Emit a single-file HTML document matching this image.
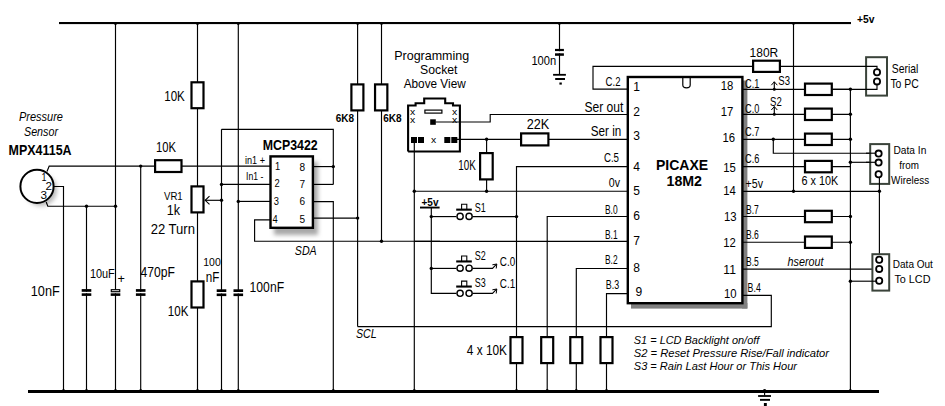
<!DOCTYPE html>
<html><head><meta charset="utf-8"><title>Barometer schematic</title>
<style>
html,body{margin:0;padding:0;background:#fff;}
body{width:945px;height:406px;overflow:hidden;}
svg{display:block;font-family:"Liberation Sans", sans-serif;}
</style></head><body>
<svg width="945" height="406" viewBox="0 0 945 406">
<rect x="0" y="0" width="945" height="406" fill="#fff"/>
<defs><filter id="bl" x="-50%" y="-50%" width="200%" height="200%"><feGaussianBlur stdDeviation="2.2"/></filter></defs>
<rect x="274" y="162" width="44" height="73" fill="#a8a8a8" filter="url(#bl)"/>
<filter id="bl2" x="-50%" y="-50%" width="200%" height="200%"><feGaussianBlur stdDeviation="0.7"/></filter>
<g filter="url(#bl2)" fill="#808080"><rect x="742" y="80.5" width="5.4" height="228"/><rect x="631" y="303" width="116.4" height="5.6"/></g>
<circle cx="41" cy="190" r="16" fill="#bbb" filter="url(#bl)"/>
<rect x="59" y="22" width="792" height="2.1" fill="#000"/>
<rect x="28" y="390" width="851" height="3" fill="#000"/>
<text x="857" y="23.2" font-size="10.8" font-weight="bold" textLength="17.5" lengthAdjust="spacingAndGlyphs">+5v</text>
<circle cx="37" cy="186.4" r="16.6" fill="#fff" stroke="#000" stroke-width="2.0"/>
<polyline points="47,171.5 49.2,166.1 270,166.1" fill="none" stroke="#000" stroke-width="1.15"/>
<polyline points="54,186.5 63.5,186.5 63.5,391" fill="none" stroke="#000" stroke-width="1.15"/>
<polyline points="46.2,202 47.8,206.2 115.5,206.2" fill="none" stroke="#000" stroke-width="1.15"/>
<text x="41.5" y="180.5" font-size="11.5" textLength="5" lengthAdjust="spacingAndGlyphs">1</text>
<text x="45.5" y="190.2" font-size="11.5" textLength="6.5" lengthAdjust="spacingAndGlyphs">2</text>
<text x="40.5" y="198.5" font-size="11.5" textLength="6.5" lengthAdjust="spacingAndGlyphs">3</text>
<text x="19" y="120.8" font-size="12.2" font-style="italic" textLength="44" lengthAdjust="spacingAndGlyphs">Pressure</text>
<text x="24" y="136.2" font-size="12.2" font-style="italic" textLength="34" lengthAdjust="spacingAndGlyphs">Sensor</text>
<text x="8.6" y="154.6" font-size="14.2" font-weight="bold" textLength="63" lengthAdjust="spacingAndGlyphs">MPX4115A</text>
<line x1="86.5" y1="206.2" x2="86.5" y2="391" stroke="#000" stroke-width="1.15"/>
<line x1="115.5" y1="23" x2="115.5" y2="391" stroke="#000" stroke-width="1.15"/>
<line x1="140.7" y1="166.1" x2="140.7" y2="391" stroke="#000" stroke-width="1.15"/>
<circle cx="86.5" cy="206.2" r="1.7" fill="#000"/>
<circle cx="115.5" cy="23.8" r="1.3" fill="#000"/>
<circle cx="197.5" cy="23.8" r="1.3" fill="#000"/>
<circle cx="238.3" cy="23.8" r="1.3" fill="#000"/>
<circle cx="357.6" cy="23.8" r="1.2" fill="#000"/>
<circle cx="381.5" cy="23.8" r="1.2" fill="#000"/>
<circle cx="115.5" cy="206.2" r="1.7" fill="#000"/>
<circle cx="140.7" cy="166.1" r="1.7" fill="#000"/>
<circle cx="63.5" cy="390.5" r="1.5" fill="#000"/>
<circle cx="86.5" cy="390.5" r="1.5" fill="#000"/>
<circle cx="115.5" cy="390.5" r="1.5" fill="#000"/>
<circle cx="140.7" cy="390.5" r="1.5" fill="#000"/>
<rect x="81.7" y="291.70000000000005" width="9.6" height="1.6" fill="#fff"/>
<rect x="81.7" y="289.1" width="9.6" height="2.7" fill="#000"/>
<rect x="81.7" y="293.3" width="9.6" height="2.6" fill="#000"/>
<rect x="110.7" y="291.70000000000005" width="9.6" height="1.6" fill="#fff"/>
<rect x="111.3" y="289.70000000000005" width="8.4" height="2" fill="#fff" stroke="#000" stroke-width="1.2"/>
<rect x="110.7" y="293.3" width="9.6" height="2.6" fill="#000"/>
<rect x="135.89999999999998" y="291.70000000000005" width="9.6" height="1.6" fill="#fff"/>
<rect x="135.89999999999998" y="289.1" width="9.6" height="2.7" fill="#000"/>
<rect x="135.89999999999998" y="293.3" width="9.6" height="2.6" fill="#000"/>
<text x="30.8" y="296.3" font-size="15" textLength="29" lengthAdjust="spacingAndGlyphs">10nF</text>
<text x="89.9" y="278.1" font-size="12.5" textLength="24.9" lengthAdjust="spacingAndGlyphs">10uF</text>
<text x="117.6" y="283.0" font-size="12" textLength="7.4" lengthAdjust="spacingAndGlyphs">+</text>
<text x="140.6" y="276.7" font-size="14.6" textLength="34.4" lengthAdjust="spacingAndGlyphs">470pF</text>
<line x1="197.5" y1="23" x2="197.5" y2="391" stroke="#000" stroke-width="1.15"/>
<rect x="191.5" y="82.3" width="11.99999999999999" height="25.899999999999995" fill="#fff" stroke="#000" stroke-width="2.2"/>
<text x="164.2" y="101.4" font-size="15.5" textLength="20.6" lengthAdjust="spacingAndGlyphs">10K</text>
<rect x="155.1" y="160.2" width="26.400000000000023" height="11.8" fill="#fff" stroke="#000" stroke-width="2.2"/>
<text x="156" y="152" font-size="15.3" textLength="20" lengthAdjust="spacingAndGlyphs">10K</text>
<rect x="191.5" y="186.39999999999998" width="11.99999999999999" height="26.000000000000018" fill="#fff" stroke="#000" stroke-width="2.2"/>
<text x="164" y="200.2" font-size="11.5" textLength="18.7" lengthAdjust="spacingAndGlyphs">VR1</text>
<text x="166.7" y="215.2" font-size="14" textLength="13.3" lengthAdjust="spacingAndGlyphs">1k</text>
<text x="150.7" y="234.2" font-size="14" textLength="44.3" lengthAdjust="spacingAndGlyphs">22 Turn</text>
<line x1="205" y1="200.3" x2="221.5" y2="200.3" stroke="#000" stroke-width="1.15"/>
<polyline points="209.5,196.2 205.2,200.3 209.5,204.4" fill="none" stroke="#000" stroke-width="1.1"/>
<rect x="191.5" y="281.40000000000003" width="11.99999999999999" height="26.100000000000012" fill="#fff" stroke="#000" stroke-width="2.2"/>
<text x="167.8" y="316" font-size="15.2" textLength="20.6" lengthAdjust="spacingAndGlyphs">10K</text>
<circle cx="197.5" cy="390.5" r="1.5" fill="#000"/>
<line x1="221.5" y1="129.3" x2="221.5" y2="391" stroke="#000" stroke-width="1.15"/>
<line x1="238.3" y1="23" x2="238.3" y2="391" stroke="#000" stroke-width="1.15"/>
<rect x="216.7" y="291.90000000000003" width="9.6" height="1.6" fill="#fff"/>
<rect x="216.7" y="289.3" width="9.6" height="2.7" fill="#000"/>
<rect x="216.7" y="293.5" width="9.6" height="2.6" fill="#000"/>
<rect x="233.5" y="291.90000000000003" width="9.6" height="1.6" fill="#fff"/>
<rect x="233.5" y="289.3" width="9.6" height="2.7" fill="#000"/>
<rect x="233.5" y="293.5" width="9.6" height="2.6" fill="#000"/>
<text x="203.3" y="266.2" font-size="11.5" textLength="17.4" lengthAdjust="spacingAndGlyphs">100</text>
<text x="205.7" y="281.8" font-size="14" textLength="13.6" lengthAdjust="spacingAndGlyphs">nF</text>
<text x="249.6" y="292.2" font-size="15" textLength="34.5" lengthAdjust="spacingAndGlyphs">100nF</text>
<circle cx="221.5" cy="390.5" r="1.5" fill="#000"/>
<circle cx="238.3" cy="390.5" r="1.5" fill="#000"/>
<polyline points="221.5,129.3 333.3,129.3 333.3,184.4" fill="none" stroke="#000" stroke-width="1.15"/>
<line x1="221.5" y1="184.4" x2="270" y2="184.4" stroke="#000" stroke-width="1.15"/>
<circle cx="221.5" cy="184.4" r="1.7" fill="#000"/>
<circle cx="221.5" cy="200.3" r="1.7" fill="#000"/>
<line x1="238.3" y1="201.4" x2="270" y2="201.4" stroke="#000" stroke-width="1.15"/>
<circle cx="238.3" cy="201.4" r="1.7" fill="#000"/>
<line x1="314" y1="166.6" x2="333.3" y2="166.6" stroke="#000" stroke-width="1.15"/>
<circle cx="333.3" cy="166.6" r="1.7" fill="#000"/>
<line x1="314" y1="184.4" x2="333.3" y2="184.4" stroke="#000" stroke-width="1.15"/>
<polyline points="314,201.6 333.3,201.6 333.3,391" fill="none" stroke="#000" stroke-width="1.15"/>
<circle cx="333.3" cy="390.5" r="1.5" fill="#000"/>
<line x1="314" y1="218.1" x2="357.6" y2="218.1" stroke="#000" stroke-width="1.15"/>
<circle cx="357.6" cy="218.1" r="1.7" fill="#000"/>
<polyline points="270,219.8 254.6,219.8 254.6,241.2 440,241.2" fill="none" stroke="#000" stroke-width="1.15"/>
<circle cx="381.5" cy="241.2" r="1.7" fill="#000"/>
<rect x="270.5" y="156.39999999999998" width="42.40000000000001" height="71.4" fill="#fff" stroke="#000" stroke-width="2.4"/>
<text x="262.7" y="149.9" font-size="15" font-weight="bold" textLength="55" lengthAdjust="spacingAndGlyphs">MCP3422</text>
<text x="245" y="164.2" font-size="11.5" textLength="20" lengthAdjust="spacingAndGlyphs">in1 +</text>
<text x="246" y="180.4" font-size="11.5" textLength="17.3" lengthAdjust="spacingAndGlyphs">In1 -</text>
<text x="275.0" y="170.4" font-size="11.5" textLength="5.2" lengthAdjust="spacingAndGlyphs">1</text>
<text x="274.6" y="187.3" font-size="11.5" textLength="5.2" lengthAdjust="spacingAndGlyphs">2</text>
<text x="273.8" y="205.4" font-size="11.5" textLength="5.2" lengthAdjust="spacingAndGlyphs">3</text>
<text x="272.4" y="223.0" font-size="11.5" textLength="5.2" lengthAdjust="spacingAndGlyphs">4</text>
<text x="299.5" y="170.8" font-size="11.5" textLength="5.6" lengthAdjust="spacingAndGlyphs">8</text>
<text x="299.5" y="188.4" font-size="11.5" textLength="5.6" lengthAdjust="spacingAndGlyphs">7</text>
<text x="299.5" y="205.4" font-size="11.5" textLength="5.6" lengthAdjust="spacingAndGlyphs">6</text>
<text x="299.5" y="222.6" font-size="11.5" textLength="5.6" lengthAdjust="spacingAndGlyphs">5</text>
<text x="294.8" y="255.3" font-size="12.5" font-style="italic" textLength="21.9" lengthAdjust="spacingAndGlyphs">SDA</text>
<line x1="357.6" y1="23" x2="357.6" y2="326.6" stroke="#000" stroke-width="1.15"/>
<line x1="381.5" y1="23" x2="381.5" y2="241.2" stroke="#000" stroke-width="1.15"/>
<rect x="351.4" y="84.39999999999999" width="12.000000000000046" height="26.000000000000004" fill="#fff" stroke="#000" stroke-width="2.2"/>
<rect x="375.05" y="84.39999999999999" width="12.3" height="26.000000000000004" fill="#fff" stroke="#000" stroke-width="2.2"/>
<text x="335.7" y="122.2" font-size="11" font-weight="bold" textLength="18.3" lengthAdjust="spacingAndGlyphs">6K8</text>
<text x="383.3" y="122.2" font-size="11" font-weight="bold" textLength="18.4" lengthAdjust="spacingAndGlyphs">6K8</text>
<polyline points="357.6,326.6 771.3,326.6 771.3,295.4 743,295.4" fill="none" stroke="#000" stroke-width="1.15"/>
<text x="356" y="338.2" font-size="12.5" font-style="italic" textLength="20.7" lengthAdjust="spacingAndGlyphs">SCL</text>
<text x="394.2" y="59.5" font-size="12.2" textLength="75" lengthAdjust="spacingAndGlyphs">Programming</text>
<text x="420" y="73.8" font-size="12.2" textLength="37.5" lengthAdjust="spacingAndGlyphs">Socket</text>
<text x="403.7" y="88.1" font-size="12.2" textLength="62" lengthAdjust="spacingAndGlyphs">Above View</text>
<polyline points="408.1,151.5 408.1,105.5 415.6,105.5 415.6,103.3 424.2,103.3 424.2,98.5 445.2,98.5 445.2,103.3 453.0,103.3 453.0,105.5 459.9,105.5 459.9,151.5 408.1,151.5" fill="none" stroke="#000" stroke-width="2.1"/>
<rect x="424.9" y="110.1" width="17" height="3" fill="none" stroke="#000" stroke-width="1.2"/>
<text x="410.0" y="114.8" font-size="9.2" textLength="5.2" lengthAdjust="spacingAndGlyphs">x</text>
<text x="410.0" y="123.4" font-size="9.2" textLength="5.2" lengthAdjust="spacingAndGlyphs">x</text>
<text x="452.09999999999997" y="114.8" font-size="9.2" textLength="5.2" lengthAdjust="spacingAndGlyphs">x</text>
<text x="452.09999999999997" y="123.4" font-size="9.2" textLength="5.2" lengthAdjust="spacingAndGlyphs">x</text>
<text x="430.9" y="142.6" font-size="9.2" textLength="5.2" lengthAdjust="spacingAndGlyphs">x</text>
<rect x="430.2" y="119.3" width="5.6" height="5.5" fill="#000"/>
<rect x="411" y="137" width="6" height="6" fill="#000"/>
<rect x="418" y="137" width="6" height="6" fill="#000"/>
<rect x="444.3" y="137" width="6" height="6" fill="#000"/>
<rect x="451.3" y="137" width="6" height="6" fill="#000"/>
<polyline points="435.5,122 490.2,122 490.2,114.5 628,114.5" fill="none" stroke="#000" stroke-width="1.15"/>
<line x1="457" y1="139.3" x2="628" y2="139.3" stroke="#000" stroke-width="1.15"/>
<line x1="414.3" y1="142" x2="414.3" y2="391" stroke="#000" stroke-width="1.15"/>
<circle cx="414.3" cy="390.5" r="1.5" fill="#000"/>
<line x1="414.3" y1="191.2" x2="628" y2="191.2" stroke="#000" stroke-width="1.15"/>
<circle cx="414.3" cy="191.2" r="1.7" fill="#000"/>
<circle cx="486.6" cy="191.2" r="1.7" fill="#000"/>
<line x1="486.6" y1="139.3" x2="486.6" y2="191.2" stroke="#000" stroke-width="1.15"/>
<circle cx="486.6" cy="139.3" r="1.7" fill="#000"/>
<rect x="480.1" y="153.1" width="12.599999999999955" height="26.3" fill="#fff" stroke="#000" stroke-width="2.2"/>
<text x="458.3" y="170.2" font-size="14" textLength="17.5" lengthAdjust="spacingAndGlyphs">10K</text>
<rect x="521.1" y="133.4" width="27.3" height="11.99999999999999" fill="#fff" stroke="#000" stroke-width="2.2"/>
<text x="526.7" y="129.2" font-size="14" textLength="22.6" lengthAdjust="spacingAndGlyphs">22K</text>
<text x="421.5" y="205.5" font-size="10" font-weight="bold" textLength="17" lengthAdjust="spacingAndGlyphs">+5v</text>
<rect x="420.0" y="206.6" width="19.6" height="1.9" fill="#000"/>
<polyline points="431.3,208 431.3,293.4 456.4,293.4" fill="none" stroke="#000" stroke-width="1.15"/>
<line x1="431.3" y1="216.6" x2="456.4" y2="216.6" stroke="#000" stroke-width="1.15"/>
<line x1="431.3" y1="268.4" x2="456.4" y2="268.4" stroke="#000" stroke-width="1.15"/>
<circle cx="431.3" cy="216.6" r="1.7" fill="#000"/>
<circle cx="431.3" cy="268.4" r="1.7" fill="#000"/>
<circle cx="460.1" cy="216.4" r="3.1" fill="#fff" stroke="#000" stroke-width="1.4"/>
<circle cx="469.1" cy="216.4" r="3.1" fill="#fff" stroke="#000" stroke-width="1.4"/>
<rect x="456.20000000000005" y="208.6" width="15.6" height="2.1" fill="#000"/>
<polyline points="461.6,209.6 461.6,204.20000000000002 466.8,204.20000000000002 466.8,209.6" fill="none" stroke="#000" stroke-width="1.1"/>
<circle cx="460.1" cy="268.2" r="3.1" fill="#fff" stroke="#000" stroke-width="1.4"/>
<circle cx="469.1" cy="268.2" r="3.1" fill="#fff" stroke="#000" stroke-width="1.4"/>
<rect x="456.20000000000005" y="260.4" width="15.6" height="2.1" fill="#000"/>
<polyline points="461.6,261.4 461.6,256.0 466.8,256.0 466.8,261.4" fill="none" stroke="#000" stroke-width="1.1"/>
<circle cx="460.1" cy="293.3" r="3.1" fill="#fff" stroke="#000" stroke-width="1.4"/>
<circle cx="469.1" cy="293.3" r="3.1" fill="#fff" stroke="#000" stroke-width="1.4"/>
<rect x="456.20000000000005" y="285.5" width="15.6" height="2.1" fill="#000"/>
<polyline points="461.6,286.5 461.6,281.1 466.8,281.1 466.8,286.5" fill="none" stroke="#000" stroke-width="1.1"/>
<line x1="472.6" y1="216.6" x2="516.5" y2="216.6" stroke="#000" stroke-width="1.15"/>
<circle cx="516.5" cy="216.6" r="1.7" fill="#000"/>
<text x="474.7" y="211.8" font-size="13" textLength="11" lengthAdjust="spacingAndGlyphs">S1</text>
<text x="474.7" y="259.7" font-size="13" textLength="11" lengthAdjust="spacingAndGlyphs">S2</text>
<text x="474.7" y="287.0" font-size="13" textLength="11" lengthAdjust="spacingAndGlyphs">S3</text>
<polyline points="472.6,268.4 492.5,268.4 496.6,264.09999999999997" fill="none" stroke="#000" stroke-width="1.1"/>
<polyline points="492.4,264.79999999999995 496.8,264.0 496.2,268.5" fill="none" stroke="#000" stroke-width="1.0"/>
<polyline points="472.6,293.4 492.5,293.4 496.6,289.09999999999997" fill="none" stroke="#000" stroke-width="1.1"/>
<polyline points="492.4,289.79999999999995 496.8,289.0 496.2,293.5" fill="none" stroke="#000" stroke-width="1.0"/>
<text x="499.8" y="265.6" font-size="13" textLength="15.4" lengthAdjust="spacingAndGlyphs">C.0</text>
<text x="499.8" y="288.0" font-size="13" textLength="15.4" lengthAdjust="spacingAndGlyphs">C.1</text>
<polyline points="628,166.6 516.5,166.6 516.5,391" fill="none" stroke="#000" stroke-width="1.15"/>
<polyline points="628,216.5 547.2,216.5 547.2,391" fill="none" stroke="#000" stroke-width="1.15"/>
<line x1="414.3" y1="241.4" x2="628" y2="241.4" stroke="#000" stroke-width="1.15"/>
<polyline points="628,268.5 576.3,268.5 576.3,391" fill="none" stroke="#000" stroke-width="1.15"/>
<polyline points="628,293.6 606.5,293.6 606.5,391" fill="none" stroke="#000" stroke-width="1.15"/>
<rect x="510.5" y="337.1" width="12.000000000000046" height="25.99999999999999" fill="#fff" stroke="#000" stroke-width="2.2"/>
<circle cx="516.5" cy="390.5" r="1.5" fill="#000"/>
<rect x="541.2" y="337.1" width="12.000000000000046" height="25.99999999999999" fill="#fff" stroke="#000" stroke-width="2.2"/>
<circle cx="547.2" cy="390.5" r="1.5" fill="#000"/>
<rect x="570.3" y="337.1" width="12.000000000000046" height="25.99999999999999" fill="#fff" stroke="#000" stroke-width="2.2"/>
<circle cx="576.3" cy="390.5" r="1.5" fill="#000"/>
<rect x="600.5" y="337.1" width="12.000000000000046" height="25.99999999999999" fill="#fff" stroke="#000" stroke-width="2.2"/>
<circle cx="606.5" cy="390.5" r="1.5" fill="#000"/>
<text x="466.8" y="354.8" font-size="14" textLength="40.2" lengthAdjust="spacingAndGlyphs">4  x 10K</text>
<line x1="559.5" y1="23" x2="559.5" y2="75" stroke="#000" stroke-width="1.15"/>
<circle cx="559.3" cy="23.5" r="1.4" fill="#000"/>
<rect x="555.0" y="48.9" width="8.9" height="2.4" fill="#000"/>
<rect x="555.0" y="51.3" width="8.9" height="2.0" fill="#fff"/>
<rect x="555.0" y="53.3" width="8.9" height="2.5" fill="#000"/>
<rect x="553.1" y="73.9" width="12.8" height="1.8" fill="#000"/>
<rect x="555.2" y="78.0" width="9.8" height="2.0" fill="#000"/>
<rect x="559.4" y="82.5" width="2.4" height="2.1" fill="#000"/>
<text x="531.4" y="65.1" font-size="12.3" textLength="24.8" lengthAdjust="spacingAndGlyphs">100n</text>
<polyline points="628,89.1 593,89.1 593,66.3 752.7,66.3" fill="none" stroke="#000" stroke-width="1.15"/>
<rect x="627.8000000000001" y="77.0" width="114.6" height="226.19999999999996" fill="#fff" stroke="#000" stroke-width="2.4"/>
<path d="M682.8,77 L682.8,85 Q682.8,87.8 686.5,87.8 Q690.2,87.8 690.2,85 L690.2,77" fill="none" stroke="#000" stroke-width="1.2"/>
<text x="655.9" y="169.7" font-size="15.4" font-weight="bold" textLength="52.2" lengthAdjust="spacingAndGlyphs">PICAXE</text>
<text x="666.5" y="186.3" font-size="15.4" font-weight="bold" textLength="35.5" lengthAdjust="spacingAndGlyphs">18M2</text>
<text x="633.2" y="90.6" font-size="12.5" textLength="6.7" lengthAdjust="spacingAndGlyphs">1</text>
<text x="633.2" y="115.9" font-size="12.5" textLength="6.7" lengthAdjust="spacingAndGlyphs">2</text>
<text x="633.2" y="139.9" font-size="12.5" textLength="6.7" lengthAdjust="spacingAndGlyphs">3</text>
<text x="633.2" y="170.5" font-size="12.5" textLength="6.7" lengthAdjust="spacingAndGlyphs">4</text>
<text x="633.2" y="194.9" font-size="12.5" textLength="6.7" lengthAdjust="spacingAndGlyphs">5</text>
<text x="633.2" y="220.3" font-size="12.5" textLength="6.7" lengthAdjust="spacingAndGlyphs">6</text>
<text x="633.2" y="244.7" font-size="12.5" textLength="6.7" lengthAdjust="spacingAndGlyphs">7</text>
<text x="633.2" y="272.0" font-size="12.5" textLength="6.7" lengthAdjust="spacingAndGlyphs">8</text>
<text x="635.4" y="296.0" font-size="12.5" textLength="6.7" lengthAdjust="spacingAndGlyphs">9</text>
<text x="733.4" y="89.9" font-size="12.5" text-anchor="end" textLength="12.6" lengthAdjust="spacingAndGlyphs">18</text>
<text x="733.4" y="115.9" font-size="12.5" text-anchor="end" textLength="12.6" lengthAdjust="spacingAndGlyphs">17</text>
<text x="735.0" y="141.6" font-size="12.5" text-anchor="end" textLength="12.6" lengthAdjust="spacingAndGlyphs">16</text>
<text x="735.9" y="172.0" font-size="12.5" text-anchor="end" textLength="12.6" lengthAdjust="spacingAndGlyphs">15</text>
<text x="735.9" y="194.9" font-size="12.5" text-anchor="end" textLength="12.6" lengthAdjust="spacingAndGlyphs">14</text>
<text x="736.6" y="221.0" font-size="12.5" text-anchor="end" textLength="12.6" lengthAdjust="spacingAndGlyphs">13</text>
<text x="735.9" y="246.7" font-size="12.5" text-anchor="end" textLength="12.6" lengthAdjust="spacingAndGlyphs">12</text>
<text x="735.9" y="274.0" font-size="12.5" text-anchor="end" textLength="12.6" lengthAdjust="spacingAndGlyphs">11</text>
<text x="736.6" y="297.6" font-size="12.5" text-anchor="end" textLength="12.6" lengthAdjust="spacingAndGlyphs">10</text>
<text x="605.6" y="86.2" font-size="12" textLength="14.9" lengthAdjust="spacingAndGlyphs">C.2</text>
<text x="584.4" y="112.4" font-size="14" textLength="38.9" lengthAdjust="spacingAndGlyphs">Ser out</text>
<text x="590.8" y="135.7" font-size="14" textLength="30.5" lengthAdjust="spacingAndGlyphs">Ser in</text>
<text x="603.9" y="161.7" font-size="12" textLength="15.1" lengthAdjust="spacingAndGlyphs">C.5</text>
<text x="608.8" y="186.9" font-size="12.5" textLength="11.2" lengthAdjust="spacingAndGlyphs">0v</text>
<text x="605" y="214.2" font-size="12.5" textLength="12.6" lengthAdjust="spacingAndGlyphs">B.0</text>
<text x="605" y="239.2" font-size="12.5" textLength="12.6" lengthAdjust="spacingAndGlyphs">B.1</text>
<text x="605" y="264.0" font-size="12.5" textLength="12.6" lengthAdjust="spacingAndGlyphs">B.2</text>
<text x="605.8" y="289.2" font-size="12.5" textLength="13.4" lengthAdjust="spacingAndGlyphs">B.3</text>
<line x1="743" y1="89.3" x2="850.4" y2="89.3" stroke="#000" stroke-width="1.15"/>
<line x1="743" y1="114.3" x2="850.4" y2="114.3" stroke="#000" stroke-width="1.15"/>
<line x1="743" y1="139.3" x2="850.4" y2="139.3" stroke="#000" stroke-width="1.15"/>
<line x1="743" y1="166.6" x2="850.4" y2="166.6" stroke="#000" stroke-width="1.15"/>
<line x1="743" y1="191.3" x2="879.4" y2="191.3" stroke="#000" stroke-width="1.15"/>
<line x1="743" y1="216.5" x2="850.4" y2="216.5" stroke="#000" stroke-width="1.15"/>
<line x1="743" y1="242.2" x2="850.4" y2="242.2" stroke="#000" stroke-width="1.15"/>
<line x1="743" y1="269.1" x2="879.4" y2="269.1" stroke="#000" stroke-width="1.15"/>
<line x1="793.5" y1="23" x2="793.5" y2="191.3" stroke="#000" stroke-width="1.15"/>
<circle cx="793.5" cy="23.5" r="1.4" fill="#000"/>
<circle cx="793.5" cy="191.3" r="1.7" fill="#000"/>
<line x1="850.4" y1="89.3" x2="850.4" y2="391" stroke="#000" stroke-width="1.15"/>
<circle cx="850.4" cy="89.3" r="1.7" fill="#000"/>
<circle cx="850.4" cy="114.3" r="1.7" fill="#000"/>
<circle cx="850.4" cy="139.3" r="1.7" fill="#000"/>
<circle cx="850.4" cy="162.3" r="1.7" fill="#000"/>
<circle cx="850.4" cy="216.5" r="1.7" fill="#000"/>
<circle cx="850.4" cy="242.2" r="1.7" fill="#000"/>
<circle cx="850.4" cy="281.2" r="1.7" fill="#000"/>
<circle cx="850.4" cy="390.5" r="1.5" fill="#000"/>
<rect x="805.0000000000001" y="83.6" width="26.799999999999887" height="11.399999999999995" fill="#fff" stroke="#000" stroke-width="2.2"/>
<rect x="805.0000000000001" y="108.6" width="26.799999999999887" height="11.399999999999995" fill="#fff" stroke="#000" stroke-width="2.2"/>
<rect x="805.0000000000001" y="133.6" width="26.799999999999887" height="11.400000000000023" fill="#fff" stroke="#000" stroke-width="2.2"/>
<rect x="805.0000000000001" y="160.89999999999998" width="26.799999999999887" height="11.400000000000023" fill="#fff" stroke="#000" stroke-width="2.2"/>
<rect x="805.0000000000001" y="210.79999999999998" width="26.799999999999887" height="11.400000000000023" fill="#fff" stroke="#000" stroke-width="2.2"/>
<rect x="805.0000000000001" y="236.49999999999997" width="26.799999999999887" height="11.400000000000023" fill="#fff" stroke="#000" stroke-width="2.2"/>
<rect x="753.1" y="60.699999999999996" width="26.8" height="11.200000000000006" fill="#fff" stroke="#000" stroke-width="2.2"/>
<text x="749.6" y="56.8" font-size="12.6" textLength="28.6" lengthAdjust="spacingAndGlyphs">180R</text>
<text x="801.4" y="184.8" font-size="12.2" textLength="36.8" lengthAdjust="spacingAndGlyphs">6 x 10K</text>
<text x="787.6" y="265.8" font-size="12.5" font-style="italic" textLength="36" lengthAdjust="spacingAndGlyphs">hserout</text>
<polyline points="773.3,139.3 773.3,153.2 876,153.2" fill="none" stroke="#000" stroke-width="1.15"/>
<circle cx="773.3" cy="139.3" r="1.7" fill="#000"/>
<line x1="850.4" y1="162.3" x2="876" y2="162.3" stroke="#000" stroke-width="1.15"/>
<line x1="774.3" y1="89.3" x2="774.3" y2="81.8" stroke="#000" stroke-width="1.15"/>
<polyline points="771.3,85.2 774.3,81.8 777.3,85.2" fill="none" stroke="#000" stroke-width="1.0"/>
<circle cx="774.3" cy="89.3" r="1.5" fill="#000"/>
<line x1="774.3" y1="114.3" x2="774.3" y2="106.6" stroke="#000" stroke-width="1.15"/>
<polyline points="771.3,110.0 774.3,106.6 777.3,110.0" fill="none" stroke="#000" stroke-width="1.0"/>
<circle cx="774.3" cy="114.3" r="1.5" fill="#000"/>
<text x="778.3" y="84.6" font-size="12.5" textLength="11.7" lengthAdjust="spacingAndGlyphs">S3</text>
<text x="770" y="106.2" font-size="12.5" textLength="11.7" lengthAdjust="spacingAndGlyphs">S2</text>
<text x="745" y="87.8" font-size="13" textLength="14.3" lengthAdjust="spacingAndGlyphs">C.1</text>
<text x="745" y="112.8" font-size="13" textLength="14.3" lengthAdjust="spacingAndGlyphs">C.0</text>
<text x="745" y="136.2" font-size="13" textLength="14.3" lengthAdjust="spacingAndGlyphs">C.7</text>
<text x="745" y="163.0" font-size="13" textLength="14.3" lengthAdjust="spacingAndGlyphs">C.6</text>
<text x="745.5" y="187.6" font-size="12.5" textLength="17.5" lengthAdjust="spacingAndGlyphs">+5v</text>
<text x="746" y="214.4" font-size="12.5" textLength="12.8" lengthAdjust="spacingAndGlyphs">B.7</text>
<text x="746" y="239.2" font-size="12.5" textLength="12.8" lengthAdjust="spacingAndGlyphs">B.6</text>
<text x="746" y="265.6" font-size="12.5" textLength="12.8" lengthAdjust="spacingAndGlyphs">B.5</text>
<text x="747.6" y="292.4" font-size="12.5" textLength="13.2" lengthAdjust="spacingAndGlyphs">B.4</text>
<rect x="866.1" y="57.2" width="20.899999999999977" height="38.39999999999999" fill="#fff" stroke="#3a433a" stroke-width="2"/>
<polyline points="780.8,66.3 877,66.3 877,69.2" fill="none" stroke="#000" stroke-width="1.15"/>
<polyline points="832.8,89.3 877,89.3 877,84.4" fill="none" stroke="#000" stroke-width="1.15"/>
<circle cx="877" cy="72.2" r="3.1" fill="#fff" stroke="#000" stroke-width="1.8"/>
<circle cx="877" cy="81.4" r="3.1" fill="#fff" stroke="#000" stroke-width="1.8"/>
<text x="891.8" y="72.8" font-size="12.4" textLength="26.5" lengthAdjust="spacingAndGlyphs">Serial</text>
<text x="890.4" y="87.8" font-size="12.4" textLength="28.4" lengthAdjust="spacingAndGlyphs">To PC</text>
<rect x="870.2" y="144.1" width="19.0" height="39.80000000000001" fill="#fff" stroke="#3a433a" stroke-width="2"/>
<polyline points="876,153.4" fill="none" stroke="#000" stroke-width="1.15"/>
<line x1="866" y1="153.2" x2="875.5" y2="153.2" stroke="#000" stroke-width="1.15"/>
<line x1="866" y1="162.3" x2="875.5" y2="162.3" stroke="#000" stroke-width="1.15"/>
<circle cx="878.6" cy="153.6" r="3.1" fill="#fff" stroke="#000" stroke-width="1.8"/>
<circle cx="878.6" cy="162.6" r="3.1" fill="#fff" stroke="#000" stroke-width="1.8"/>
<circle cx="878.6" cy="174.2" r="3.1" fill="#fff" stroke="#000" stroke-width="1.8"/>
<line x1="879.4" y1="177.1" x2="879.4" y2="254" stroke="#000" stroke-width="1.15"/>
<circle cx="879.4" cy="191.3" r="1.7" fill="#000"/>
<text x="893.5" y="153.6" font-size="11.8" textLength="32.8" lengthAdjust="spacingAndGlyphs">Data In</text>
<text x="899.2" y="168.7" font-size="11.8" textLength="19.7" lengthAdjust="spacingAndGlyphs">from</text>
<text x="891.1" y="183.8" font-size="11.8" textLength="38" lengthAdjust="spacingAndGlyphs">Wireless</text>
<rect x="872.4" y="254.2" width="16.800000000000068" height="36.400000000000034" fill="#fff" stroke="#3a433a" stroke-width="2"/>
<line x1="850.4" y1="281.2" x2="876" y2="281.2" stroke="#000" stroke-width="1.15"/>
<circle cx="879.2" cy="259.8" r="3.1" fill="#fff" stroke="#000" stroke-width="1.8"/>
<circle cx="879.2" cy="268.9" r="3.1" fill="#fff" stroke="#000" stroke-width="1.8"/>
<circle cx="879.2" cy="280.7" r="3.1" fill="#fff" stroke="#000" stroke-width="1.8"/>
<text x="892.8" y="267.8" font-size="11.8" textLength="40.1" lengthAdjust="spacingAndGlyphs">Data Out</text>
<text x="894.4" y="282.8" font-size="11.8" textLength="36.1" lengthAdjust="spacingAndGlyphs">To LCD</text>
<line x1="764.6" y1="392" x2="764.6" y2="395.5" stroke="#000" stroke-width="1.15"/>
<rect x="758.1" y="395.1" width="12.9" height="1.8" fill="#000"/>
<rect x="760.0" y="398.9" width="10" height="1.9" fill="#000"/>
<rect x="763.9" y="403.0" width="2.9" height="3" fill="#000"/>
<circle cx="764.6" cy="390.8" r="1.8" fill="#000"/>
<text x="633.8" y="343.8" font-size="11.3" font-style="italic" textLength="125.5" lengthAdjust="spacingAndGlyphs">S1 = LCD Backlight on/off</text>
<text x="633.8" y="357.0" font-size="11.3" font-style="italic" textLength="195.2" lengthAdjust="spacingAndGlyphs">S2 = Reset Pressure Rise/Fall indicator</text>
<text x="633.8" y="369.7" font-size="11.3" font-style="italic" textLength="163.2" lengthAdjust="spacingAndGlyphs">S3 = Rain Last Hour or This Hour</text>
</svg>
</body></html>
